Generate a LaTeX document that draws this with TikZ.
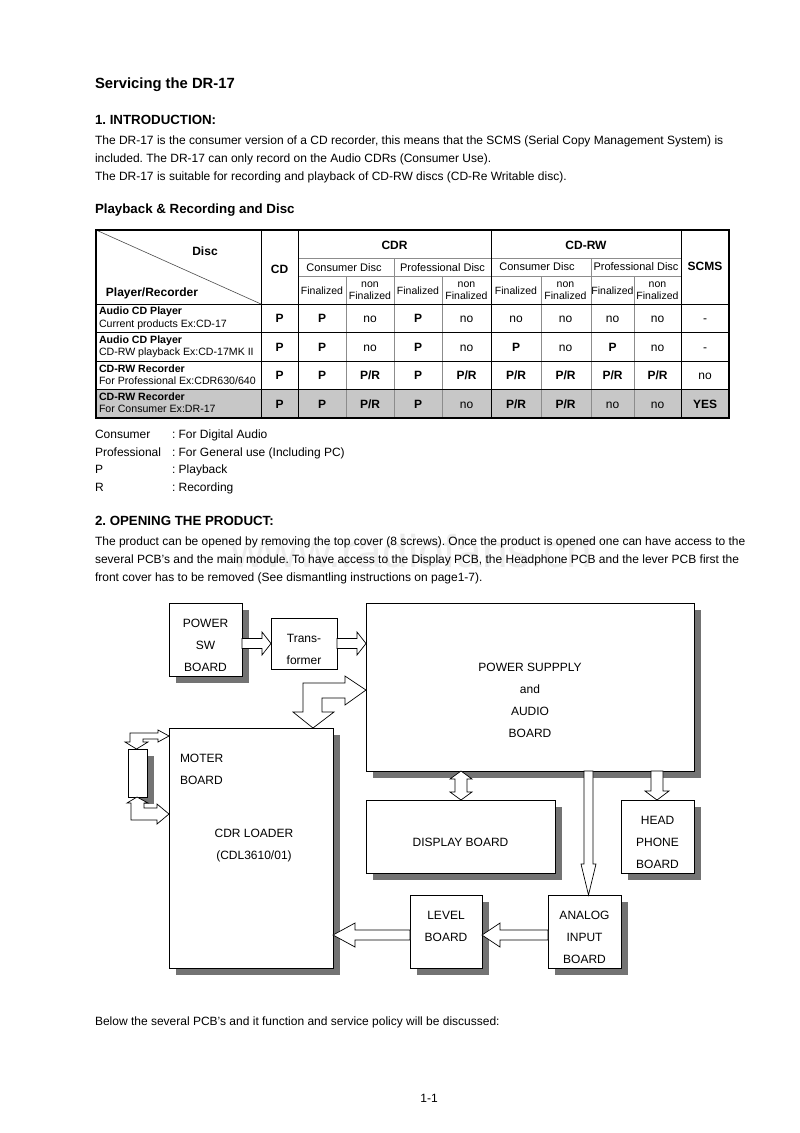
\documentclass[tikz,border=0pt]{standalone}
\usepackage{fontspec}
\setmainfont{Liberation Sans}
\begin{document}
\frenchspacing
\begin{tikzpicture}[x=1pt,y=-1pt,
  every node/.style={inner sep=0pt, outer sep=0pt},
  body/.style={font=\fontsize{12}{14}\selectfont, anchor=base west},
  head/.style={font=\bfseries\fontsize{13.3}{15}\selectfont, anchor=base west},
  tb/.style={font=\fontsize{11}{12.5}\selectfont, align=center},
  tbf/.style={font=\fontsize{10.5}{12.5}\selectfont, align=center},
  tbb/.style={font=\bfseries\fontsize{12}{14}\selectfont},
  rl/.style={font=\fontsize{10.6}{13}\selectfont, anchor=west},
  rlb/.style={font=\bfseries\fontsize{10.6}{13}\selectfont, anchor=west},
  dg/.style={font=\fontsize{12}{22}\selectfont, align=center},
  plainbox/.style={draw, line width=0.8pt, fill=white},
  shade/.style={fill=black!55},
  barrow/.style={draw, line width=0.7pt, fill=white, line join=miter},
  inner/.style={black!45, line width=0.8pt},
  outer/.style={black, line width=0.9pt}]
\useasboundingbox (0,0) rectangle (800,1133);
\fill[white] (0,0) rectangle (800,1133);

% ---------- texts ----------
\node[head, font=\bfseries\fontsize{14.8}{17}\selectfont] (title) at (95,88) {Servicing the DR-17};
\node[head] (h1) at (95,124.5) {1. INTRODUCTION:};
\node[body] (l1) at (95,144.5) {The DR-17 is the consumer version of a CD recorder, this means that the SCMS (Serial Copy Management System) is};
\node[body] (l2) at (95,162.5) {included. The DR-17 can only record on the Audio CDRs (Consumer Use).};
\node[body] (l3) at (95,180.5) {The DR-17 is suitable for recording and playback of CD-RW discs (CD-Re Writable disc).};
\node[head] (h2) at (95,213.5) {Playback \& Recording and Disc};

% ---------- table ----------
\fill[black!22] (96,389) rectangle (729,418);
\draw[inner] (298,258) -- (681,258);
\draw[inner] (298,276) -- (681,276);
\draw[inner] (394,258) -- (394,418);
\draw[inner] (591,258) -- (591,418);
\foreach \x in {346,442,541,634} \draw[inner] (\x,276) -- (\x,418);
\draw[outer] (96,304) -- (729,304);
\foreach \y in {332,361,389} \draw[outer] (96,\y) -- (729,\y);
\foreach \x in {261,298,491,681} \draw[outer] (\x,230) -- (\x,418);
\draw[black!70, line width=0.6pt] (96,230) -- (261,304);
\draw[black, line width=1.3pt] (96,230) rectangle (729,418);

\node[tbb] (tdisc) at (205,251) {Disc};
\node[tbb] (tpr) at (152,293) {Player/Recorder};
\node[tbb] (tcd) at (279.5,269) {CD};
\node[tbb] (tcdr) at (394.5,245) {CDR};
\node[tbb] (tcdrw) at (586,245) {CD-RW};
\node[tbb] (tscms) at (705,266) {SCMS};
\node[tb] (c1) at (344,268) {Consumer Disc};
\node[tb] (c2) at (442.5,268) {Professional Disc};
\node[tb] (c3) at (537,267) {Consumer Disc};
\node[tb] (c4) at (636,267) {Professional Disc};
\foreach \x/\n in {322/a,418/b,516/c,612.5/d}
  \node[tbf] (f\n) at (\x,291) {Finalized};
\foreach \x/\n in {370/a,466.5/b,565.5/c,657.5/d}
  \node[tbf] (nf\n) at (\x,290.5) {non\\Finalized};

\node[rlb] (r1a) at (99,312) {Audio CD Player};
\node[rl]  (r1b) at (99,325) {Current products Ex:CD-17};
\node[rlb] (r2a) at (99,341) {Audio CD Player};
\node[rl]  (r2b) at (99,353) {CD-RW playback Ex:CD-17MK II};
\node[rlb] (r3a) at (99,369) {CD-RW Recorder};
\node[rl]  (r3b) at (99,381) {For Professional Ex:CDR630/640};
\node[rlb] (r4a) at (99,397) {CD-RW Recorder};
\node[rl]  (r4b) at (99,409) {For Consumer Ex:DR-17};

\newcommand\cB[1]{\textbf{#1}}
\newcommand\tablerow[3]{%
  \foreach \v [count=\i] in {#2} {%
    \pgfmathsetmacro\xx{{279.5,322,370,418,466.5,516,565.5,612.5,657.5,705}[\i-1]}%
    \node[font=\fontsize{12}{14}\selectfont, anchor=base] (d#3\i) at (\xx,#1+4.5) {\v};
  }}
\tablerow{318}{\cB{P},\cB{P},no,\cB{P},no,no,no,no,no,-}{a}
\tablerow{346.5}{\cB{P},\cB{P},no,\cB{P},no,\cB{P},no,\cB{P},no,-}{b}
\tablerow{375}{\cB{P},\cB{P},\cB{P/R},\cB{P},\cB{P/R},\cB{P/R},\cB{P/R},\cB{P/R},\cB{P/R},no}{c}
\tablerow{403.5}{\cB{P},\cB{P},\cB{P/R},\cB{P},no,\cB{P/R},\cB{P/R},no,no,\cB{YES}}{d}

% ---------- legend ----------
\node[body] (g1) at (95,438.5) {Consumer};
\node[body] (g1t) at (172,438.5) {: For Digital Audio};
\node[body] (g2) at (95,456.5) {Professional};
\node[body] (g2t) at (172,456.5) {: For General use (Including PC)};
\node[body] (g3) at (95,473.5) {P};
\node[body] (g3t) at (172,473.5) {: Playback};
\node[body] (g4) at (95,491.5) {R};
\node[body] (g4t) at (172,491.5) {: Recording};

\node[head] (h3) at (95,525.5) {2. OPENING THE PRODUCT:};
\node[font=\fontsize{46}{50}\selectfont, text=black!7] (wm) at (412,551) {www.radiofans.cn};
\node[body] (m1) at (95,545.5) {The product can be opened by removing the top cover (8 screws). Once the product is opened one can have access to the};
\node[body] (m2) at (95,563.5) {several PCB's and the main module. To have access to the Display PCB, the Headphone PCB and the lever PCB first the};
\node[body] (m3) at (95,581.5) {front cover has to be removed (See dismantling instructions on page1-7).};

% ---------- block diagram ----------
\foreach \cx/\cy/\w/\h in {205.5/639.5/73/73, 530/687/328/168, 251/848/164/240, 137.5/773/19/48, 460.5/836.5/189/73, 657.5/836.5/73/73, 446/931.5/72/73, 584.5/931.5/73/73}
  \fill[shade] (\cx-\w/2+7,\cy-\h/2+7) rectangle (\cx+\w/2+7,\cy+\h/2+7);
\node[plainbox, minimum width=73, minimum height=73] (psw) at (205.5,639.5) {};
\node[plainbox, minimum width=66, minimum height=51] (trans) at (304,643.5) {};
\node[plainbox, minimum width=328, minimum height=168] (ps) at (530,687) {};
\node[plainbox, minimum width=164, minimum height=240] (cdr) at (251,848) {};
\node[plainbox, minimum width=19, minimum height=48] (mot) at (137.5,773) {};
\node[plainbox, minimum width=189, minimum height=73] (disp) at (460.5,836.5) {};
\node[plainbox, minimum width=73, minimum height=73] (hp) at (657.5,836.5) {};
\node[plainbox, minimum width=72, minimum height=73] (lvl) at (446,931.5) {};
\node[plainbox, minimum width=73, minimum height=73] (ana) at (584.5,931.5) {};

\node[dg] (pswt) at (205.5,645) {POWER\\SW\\BOARD};
\node[dg] (transt) at (304,649) {Trans-\\former};
\node[dg] (pst) at (530,700) {POWER SUPPPLY\\and\\AUDIO\\BOARD};
\node[dg, align=left, anchor=west] (motext) at (180,769) {MOTER\\BOARD};
\node[dg] (cdrt) at (254,846) {CDR LOADER\\(CDL3610/01)};
\node[dg] (dispt) at (460.5,842) {DISPLAY BOARD};
\node[dg] (hpt) at (657.5,842) {HEAD\\PHONE\\BOARD};
\node[dg] (lvlt) at (446,926) {LEVEL\\BOARD};
\node[dg] (anat) at (584.5,937) {ANALOG\\INPUT\\BOARD};

% block arrows
\draw[barrow] (psw.east |- 0,638.5) -- (262,638.5) -- (262,632) -- (trans.west |- 0,643.5) -- (262,655) -- (262,648.5) -- (psw.east |- 0,648.5) -- cycle;
\draw[barrow] (trans.east |- 0,638.5) -- (357,638.5) -- (357,632) -- (ps.west |- 0,643.5) -- (357,655) -- (357,648.5) -- (trans.east |- 0,648.5) -- cycle;
\draw[barrow] (ps.west |- 0,690) -- (345,676) -- (345,683) -- (303,683) -- (303,712) -- (293,712) -- (313,728) -- (334,712) -- (322,712) -- (322,698) -- (345,698) -- (345,705) -- cycle;
\draw[barrow] (cdr.west |- 0,736) -- (158,730) -- (158,733) -- (130,733) -- (130,742) -- (125,742) -- (136.5,749) -- (148,742) -- (143,742) -- (143,739) -- (158,739) -- (158,742) -- cycle;
\draw[barrow] (137,797) -- (148,803) -- (144,803) -- (144,808) -- (157,808) -- (157,804) -- (cdr.west |- 0,814) -- (157,824) -- (157,820) -- (131,820) -- (131,803) -- (127,803) -- cycle;
\draw[barrow] (461,771) -- (472,779) -- (467,779) -- (467,792) -- (472,792) -- (461,800) -- (450,792) -- (455,792) -- (455,779) -- (450,779) -- cycle;
\draw[barrow] (651,771) -- (663,771) -- (663,791) -- (669,791) -- (657,800) -- (645,791) -- (651,791) -- cycle;
\draw[barrow] (584,771) -- (593,771) -- (593,864) -- (596,864) -- (588.5,895) -- (581,864) -- (584,864) -- cycle;
\draw[barrow] (ana.west |- 0,930) -- (500,930) -- (500,923) -- (lvl.east |- 0,935) -- (500,947) -- (500,940) -- (ana.west |- 0,940) -- cycle;
\draw[barrow] (lvl.west |- 0,930) -- (355,930) -- (355,923) -- (cdr.east |- 0,935) -- (355,947) -- (355,940) -- (lvl.west |- 0,940) -- cycle;

\node[body] (m4) at (95,1025.5) {Below the several PCB's and it function and service policy will be discussed:};
\node[font=\fontsize{12}{14}\selectfont] (pg) at (429,1098) {1-1};
\end{tikzpicture}
\end{document}
